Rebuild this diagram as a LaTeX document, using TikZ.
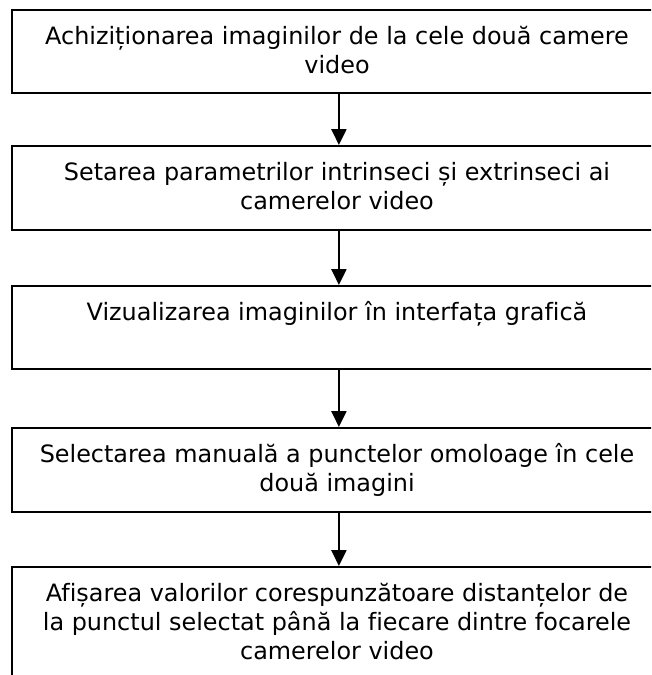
\documentclass[tikz,border=0pt]{standalone}
\usepackage{fontspec}
\setmainfont{DejaVu Sans}[Ligatures=NoCommon]
\usetikzlibrary{arrows.meta}
\begin{document}
\begin{tikzpicture}[x=1pt,y=-1pt,
  box/.style={draw=black, line width=1.8pt, rectangle, inner sep=0pt, minimum width=654pt, anchor=north west},
  lbl/.style={anchor=north, inner sep=0pt, align=center, font=\fontsize{23.9}{29}\selectfont},
  arr/.style={line width=2.4pt, -{Triangle[length=16pt,width=15pt]}}]
\useasboundingbox (0,0) rectangle (651,675);
\clip (0,0) rectangle (651,675);
\fill[white] (0,0) rectangle (651,675);
\node[box, minimum height=83pt] (b1) at (11,9) {};
\node[box, minimum height=84pt] (b2) at (11,145) {};
\node[box, minimum height=83pt] (b3) at (11,285) {};
\node[box, minimum height=84pt] (b4) at (11,427) {};
\node[box, minimum height=160pt] (b5) at (11,566) {};
\node[lbl] (t1) at (337,23.7) {\strut Achiziționarea imaginilor de la cele două camere\\video};
\node[lbl] (t2) at (337,159.7) {\strut Setarea parametrilor intrinseci și extrinseci ai\\camerelor video};
\node[lbl] (t3) at (337,299.7) {\strut Vizualizarea imaginilor în interfața grafică};
\node[lbl] (t4) at (337,441.7) {\strut Selectarea manuală a punctelor omoloage în cele\\două imagini};
\node[lbl] (t5) at (337,580.7) {\strut Afișarea valorilor corespunzătoare distanțelor de\\la punctul selectat până la fiecare dintre focarele\\camerelor video};
\draw[arr] (b1.south) -- (b2.north);
\draw[arr] (b2.south) -- (b3.north);
\draw[arr] (b3.south) -- (b4.north);
\draw[arr] (b4.south) -- (b5.north);
\end{tikzpicture}
\end{document}
